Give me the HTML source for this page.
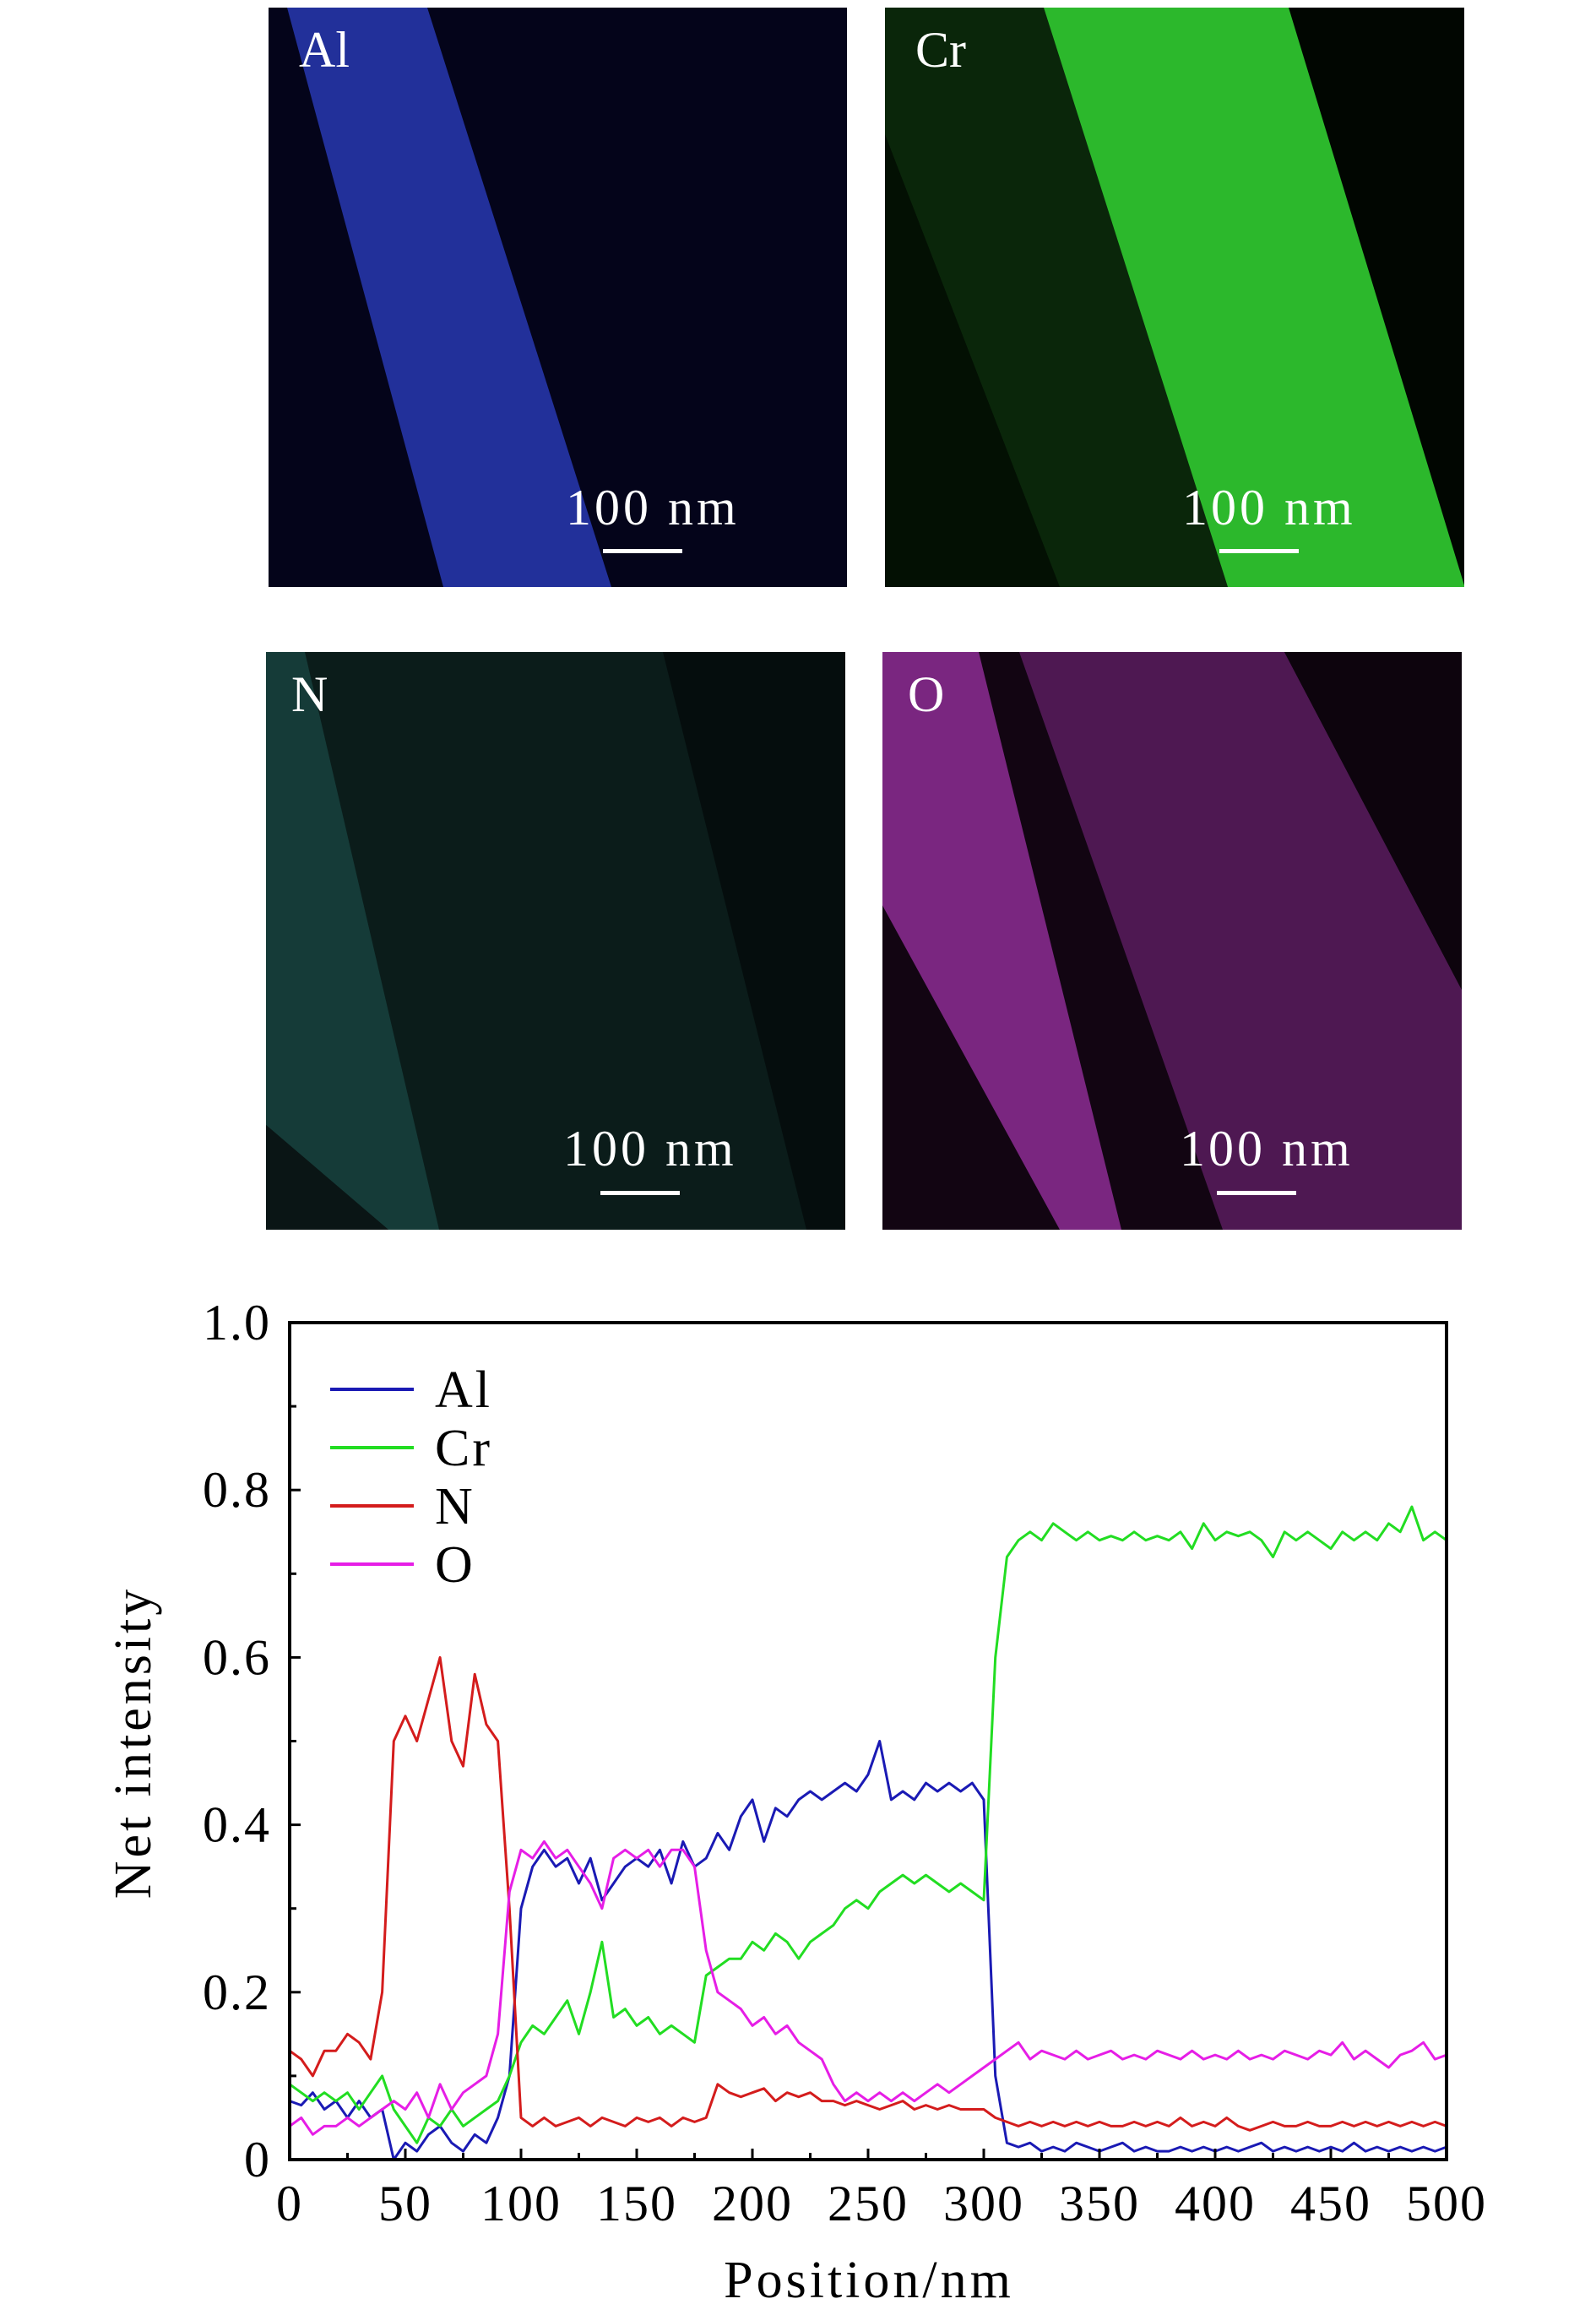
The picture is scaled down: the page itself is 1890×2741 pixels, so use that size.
<!DOCTYPE html>
<html><head><meta charset="utf-8"><style>
body{margin:0;background:#fff;}
svg{display:block;font-family:"Liberation Serif",serif;}
</style></head><body>
<svg width="1890" height="2741" viewBox="0 0 1890 2741" xmlns="http://www.w3.org/2000/svg">
<g transform="translate(318,9)">
<rect width="685" height="686" fill="#04041a"/>
<polygon points="22,0 188,0 406,686 207,686" fill="#22309a"/>
<text x="36" y="70" font-size="60" fill="#fff">Al</text>
<text x="352" y="612" font-size="60" letter-spacing="4" fill="#fff">100 nm</text>
<rect x="396" y="641" width="94" height="5" fill="#fff"/>
</g>
<g transform="translate(1048,9)">
<rect width="686" height="686" fill="#010601"/>
<polygon points="0,0 188,0 406,686 207,686 0,686" fill="#0a260a"/>
<polygon points="0,150 0,686 207,686" fill="#031003"/>
<polygon points="188,0 478,0 686,684 686,686 406,686" fill="#2cb82c"/>
<text x="36" y="70" font-size="60" fill="#fff">Cr</text>
<text x="352" y="612" font-size="60" letter-spacing="4" fill="#fff">100 nm</text>
<rect x="396" y="641" width="94" height="5" fill="#fff"/>
</g>
<g transform="translate(315,772)">
<rect width="686" height="684" fill="#0b1c1a"/>
<polygon points="470,0 686,0 686,684 640,684" fill="#050d0d"/>
<polygon points="0,0 46,0 205,684 145,684 0,560" fill="#153b38"/>
<polygon points="0,560 145,684 0,684" fill="#0a1515"/>
<text x="30" y="70" font-size="60" fill="#fff">N</text>
<text x="352" y="608" font-size="60" letter-spacing="4" fill="#fff">100 nm</text>
<rect x="396" y="638" width="94" height="5" fill="#fff"/>
</g>
<g transform="translate(1045,772)">
<rect width="686" height="684" fill="#120512"/>
<polygon points="162,0 476,0 686,400 686,684 403,684" fill="#4e1852"/>
<polygon points="476,0 686,0 686,400" fill="#0d040d"/>
<polygon points="0,0 114,0 283,684 210,684 0,300" fill="#7a2680"/>
<text x="30" y="70" font-size="60" fill="#fff">O</text>
<text x="352" y="608" font-size="60" letter-spacing="4" fill="#fff">100 nm</text>
<rect x="396" y="638" width="94" height="5" fill="#fff"/>
</g>
<g id="chart"></g>
</svg>
<script>
const positions=[0,5,10,15,20,25,30,35,40,45,50,55,60,65,70,75,80,85,90,95,100,105,110,115,120,125,130,135,140,145,150,155,160,165,170,175,180,185,190,195,200,205,210,215,220,225,230,235,240,245,250,255,260,265,270,275,280,285,290,295,300,305,310,315,320,325,330,335,340,345,350,355,360,365,370,375,380,385,390,395,400,405,410,415,420,425,430,435,440,445,450,455,460,465,470,475,480,485,490,495,500];
const alValues=[0.07,0.065,0.08,0.06,0.07,0.05,0.07,0.05,0.06,0.0,0.02,0.01,0.03,0.04,0.02,0.01,0.03,0.02,0.05,0.1,0.3,0.35,0.37,0.35,0.36,0.33,0.36,0.31,0.33,0.35,0.36,0.35,0.37,0.33,0.38,0.35,0.36,0.39,0.37,0.41,0.43,0.38,0.42,0.41,0.43,0.44,0.43,0.44,0.45,0.44,0.46,0.5,0.43,0.44,0.43,0.45,0.44,0.45,0.44,0.45,0.43,0.1,0.02,0.015,0.02,0.01,0.015,0.01,0.02,0.015,0.01,0.015,0.02,0.01,0.015,0.01,0.01,0.015,0.01,0.015,0.01,0.015,0.01,0.015,0.02,0.01,0.015,0.01,0.015,0.01,0.015,0.01,0.02,0.01,0.015,0.01,0.015,0.01,0.015,0.01,0.015];
const crValues=[0.09,0.08,0.07,0.08,0.07,0.08,0.06,0.08,0.1,0.06,0.04,0.02,0.05,0.04,0.06,0.04,0.05,0.06,0.07,0.1,0.14,0.16,0.15,0.17,0.19,0.15,0.2,0.26,0.17,0.18,0.16,0.17,0.15,0.16,0.15,0.14,0.22,0.23,0.24,0.24,0.26,0.25,0.27,0.26,0.24,0.26,0.27,0.28,0.3,0.31,0.3,0.32,0.33,0.34,0.33,0.34,0.33,0.32,0.33,0.32,0.31,0.6,0.72,0.74,0.75,0.74,0.76,0.75,0.74,0.75,0.74,0.745,0.74,0.75,0.74,0.745,0.74,0.75,0.73,0.76,0.74,0.75,0.745,0.75,0.74,0.72,0.75,0.74,0.75,0.74,0.73,0.75,0.74,0.75,0.74,0.76,0.75,0.78,0.74,0.75,0.74];
const nValues=[0.13,0.12,0.1,0.13,0.13,0.15,0.14,0.12,0.2,0.5,0.53,0.5,0.55,0.6,0.5,0.47,0.58,0.52,0.5,0.3,0.05,0.04,0.05,0.04,0.045,0.05,0.04,0.05,0.045,0.04,0.05,0.045,0.05,0.04,0.05,0.045,0.05,0.09,0.08,0.075,0.08,0.085,0.07,0.08,0.075,0.08,0.07,0.07,0.065,0.07,0.065,0.06,0.065,0.07,0.06,0.065,0.06,0.065,0.06,0.06,0.06,0.05,0.045,0.04,0.045,0.04,0.045,0.04,0.045,0.04,0.045,0.04,0.04,0.045,0.04,0.045,0.04,0.05,0.04,0.045,0.04,0.05,0.04,0.035,0.04,0.045,0.04,0.04,0.045,0.04,0.04,0.045,0.04,0.045,0.04,0.045,0.04,0.045,0.04,0.045,0.04];
const oValues=[0.04,0.05,0.03,0.04,0.04,0.05,0.04,0.05,0.06,0.07,0.06,0.08,0.05,0.09,0.06,0.08,0.09,0.1,0.15,0.32,0.37,0.36,0.38,0.36,0.37,0.35,0.33,0.3,0.36,0.37,0.36,0.37,0.35,0.37,0.37,0.35,0.25,0.2,0.19,0.18,0.16,0.17,0.15,0.16,0.14,0.13,0.12,0.09,0.07,0.08,0.07,0.08,0.07,0.08,0.07,0.08,0.09,0.08,0.09,0.1,0.11,0.12,0.13,0.14,0.12,0.13,0.125,0.12,0.13,0.12,0.125,0.13,0.12,0.125,0.12,0.13,0.125,0.12,0.13,0.12,0.125,0.12,0.13,0.12,0.125,0.12,0.13,0.125,0.12,0.13,0.125,0.14,0.12,0.13,0.12,0.11,0.125,0.13,0.14,0.12,0.125];
const xTickLabels=["0","50","100","150","200","250","300","350","400","450","500"];
const yTickLabels=["0","0.2","0.4","0.6","0.8","1.0"];
const seriesNames=["Al","Cr","N","O"];

const NS="http://www.w3.org/2000/svg";
const L=343,R=1713,T=1566,B=2557;
const xScale=v=>L+(v-0)/(500-0)*(R-L);
const yScale=v=>B-(v-0)/(1-0)*(B-T);
const g=document.getElementById('chart');
function mk(tag,attrs,parent){const e=document.createElementNS(NS,tag);for(const k in attrs)e.setAttribute(k,attrs[k]);(parent||g).appendChild(e);return e;}
const colors=["#1a1ab4","#22dd22","#d41c1c","#e61ee6"];
const allSeries=[alValues,crValues,nValues,oValues];
allSeries.forEach((vals,si)=>{
  const d=vals.map((v,i)=>(i?'L':'M')+xScale(positions[i]).toFixed(1)+','+yScale(v).toFixed(1)).join(' ');
  const p=mk('path',{d:d,fill:'none',stroke:colors[si],'stroke-width':3,'stroke-linejoin':'round'});
  
  
});
const fr=mk('rect',{x:L,y:T,width:R-L,height:B-T,fill:'none',stroke:'#000','stroke-width':4});


for(let v=0;v<=500;v+=25){
  const major=v%50===0;
  const t=mk('line',{x1:xScale(v),x2:xScale(v),y1:B,y2:B-(major?13:8),stroke:'#000','stroke-width':3});
  
  
}
xTickLabels.forEach(s=>{
  const v=+s;
  const t=mk('text',{x:xScale(v),y:B+72,'font-size':60,'letter-spacing':2,'text-anchor':'middle'});
  t.textContent=s;
  
  
});
for(let k=0;k<=10;k++){
  const v=k/10;
  const t=mk('line',{x1:L,x2:L+(k%2===0?13:8),y1:yScale(v),y2:yScale(v),stroke:'#000','stroke-width':3});
  
  
}
yTickLabels.forEach(s=>{
  const v=+s;
  const t=mk('text',{x:L-22,y:yScale(v)+20,'font-size':60,'letter-spacing':2,'text-anchor':'end'});
  t.textContent=s;
  
  
});
const xt=mk('text',{x:1029,y:2720,'font-size':62,'letter-spacing':4,'text-anchor':'middle'});
xt.textContent='Position/nm';


const yt=mk('text',{x:0,y:0,'font-size':62,'letter-spacing':4,'text-anchor':'middle',transform:'translate(178,2063) rotate(-90)'});
yt.textContent='Net intensity';


seriesNames.forEach((n,i)=>{
  const y=1645+i*69;
  const ln=mk('line',{x1:391,x2:490,y1:y,y2:y,stroke:colors[i],'stroke-width':4});
  
  
  const tx=mk('text',{x:515,y:y+21,'font-size':62,'letter-spacing':3});
  tx.textContent=n;
  
  
});
</script>
</body></html>
